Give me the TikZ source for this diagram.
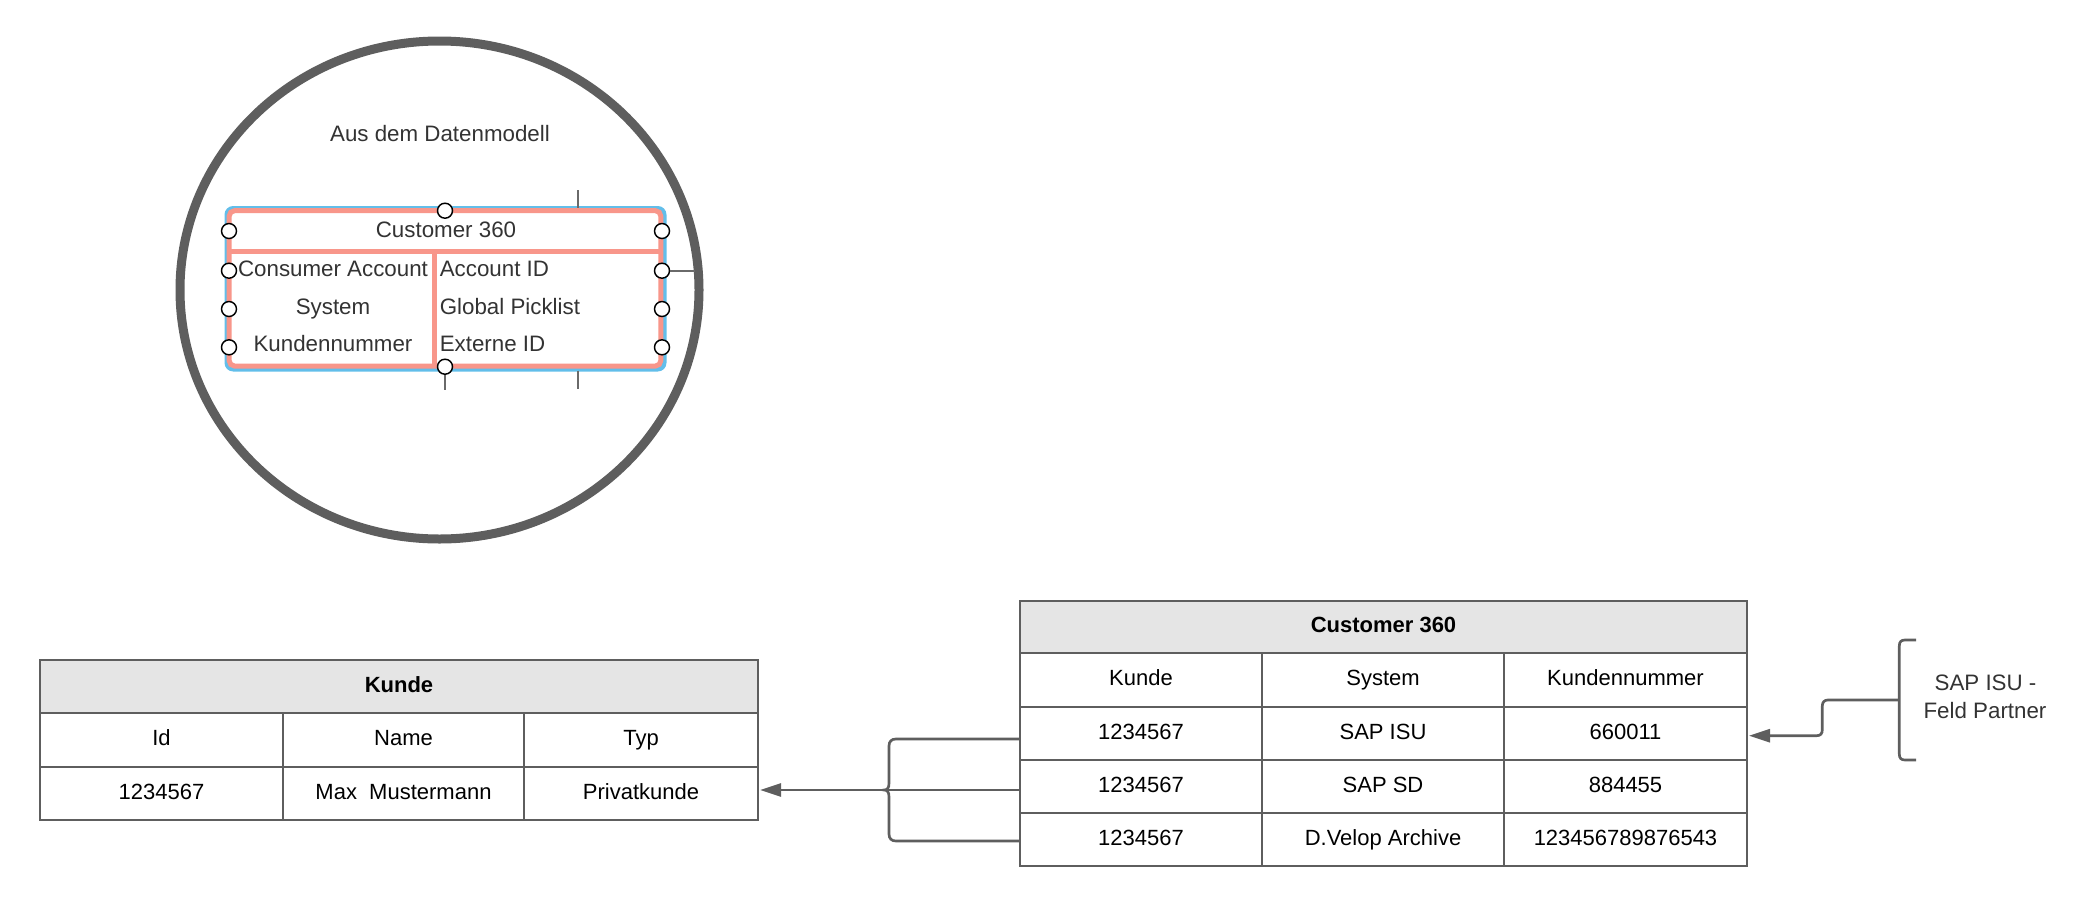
\documentclass[tikz,border=0pt]{standalone}
\usepackage{fontspec}
\setmainfont{Liberation Sans}
\usetikzlibrary{arrows.meta,calc,shapes.geometric}
\definecolor{lg}{HTML}{5E5E5E}
\definecolor{hdr}{HTML}{E5E5E5}
\definecolor{txt}{HTML}{333333}
\definecolor{salmon}{HTML}{F8968A}
\definecolor{selblue}{HTML}{62BEEA}
\definecolor{tickc}{HTML}{6A6A6A}
\begin{document}
\begin{tikzpicture}[x=0.75pt,y=-0.75pt,
 every node/.style={font=\fontsize{16.5}{19.8}\selectfont},
 cell/.style={draw=lg, line width=2pt, inner sep=0pt, outer sep=0pt, anchor=north west, text height=11.8pt, text depth=3pt, text=black},
 hcell/.style={cell, fill=hdr, font=\fontsize{16.5}{19.8}\selectfont\bfseries},
 conn/.style={draw=lg, line width=2pt},
 handle/.style={circle, draw=black, fill=white, line width=1.1pt, inner sep=0pt, minimum size=11.25pt},
 etxt/.style={text=txt, inner sep=0pt, anchor=base, font=\fontsize{16.75}{20}\selectfont},
 tickln/.style={draw=tickc, line width=1.5pt},
 tipend/.style={-{Triangle[length=15.75pt,width=9.75pt]}}
]
\useasboundingbox (0,0) rectangle (2100,907);

% ---------- lens circle ----------
\node[ellipse, draw=lg, line width=6.75pt, minimum width=389.25pt, minimum height=373.5pt, inner sep=0pt, outer sep=0pt] (lens) at (439.5,290) {};
\node[etxt] (title) at (440,141.7) {Aus dem Datenmodell};

% ---------- entity ----------
\fill[selblue, rounded corners=6.5pt] (224.5,206) rectangle (666.5,371.5);
\node[draw=salmon, fill=white, line width=3.75pt, rounded corners=4pt, minimum width=323.7pt, minimum height=116.5pt, inner sep=0pt, outer sep=0pt] (ent) at (445,288.35) {};
\coordinate (dv) at (0,251);
\coordinate (cv) at (434.2,0);
\draw[salmon, line width=3.75pt] (ent.west |- dv) -- (ent.east |- dv);
\draw[salmon, line width=3.75pt] (cv |- dv) -- (cv |- ent.south);

\node[etxt] (e0) at (446,237.5) {Customer 360};
\node[etxt] (el1) at (333,276) {Consumer Account};
\node[etxt] (el2) at (333,314) {System};
\node[etxt] (el3) at (333,351.7) {Kundennummer};
\node[etxt, anchor=base west] (er1) at (439.5,276) {Account ID};
\node[etxt, anchor=base west] (er2) at (439.5,314) {Global Picklist};
\node[etxt, anchor=base west] (er3) at (439.5,351.7) {Externe ID};

% ticks
\coordinate (t1a) at (578,190); \coordinate (t1b) at (578,207.5);
\coordinate (t2a) at (578,370.5); \coordinate (t2b) at (578,389);
\draw[tickln] (t1a) -- (t1b);
\draw[tickln] (t2a) -- (t2b);

% handles
\node[handle] (hl0) at (229,231) {};
\node[handle] (hl1) at (229,270.7) {};
\node[handle] (hl2) at (229,309) {};
\node[handle] (hl3) at (229,347.3) {};
\node[handle] (hr0) at (662,231) {};
\node[handle] (hr1) at (662,270.7) {};
\node[handle] (hr2) at (662,309) {};
\node[handle] (hr3) at (662,347.3) {};
\node[handle] (ht) at (445,210.7) {};
\node[handle] (hb) at (445,366.7) {};
\coordinate (rt) at (695,270.7);
\coordinate (bt3) at (445,390);
\draw[tickln] (hr1.east) -- (rt);
\draw[tickln] (hb.south) -- (bt3);

% ---------- Kunde table ----------
\node[hcell, minimum width=538.5pt, minimum height=39.75pt] (kh) at (40,660) {Kunde};
\node[cell, minimum width=182.25pt, minimum height=40.5pt] (k11) at (40,713) {Id};
\node[cell, minimum width=180.75pt, minimum height=40.5pt] (k12) at (283,713) {Name};
\node[cell, minimum width=175.5pt, minimum height=40.5pt] (k13) at (524,713) {Typ};
\node[cell, minimum width=182.25pt, minimum height=39.75pt] (k21) at (40,767) {1234567};
\node[cell, minimum width=180.75pt, minimum height=39.75pt] (k22) at (283,767) {Max\ \ Mustermann};
\node[cell, minimum width=175.5pt, minimum height=39.75pt] (k23) at (524,767) {Privatkunde};

% ---------- Customer 360 table ----------
\node[hcell, minimum width=545.25pt, minimum height=39pt] (ch) at (1020,601) {Customer 360};
\node[cell, minimum width=181.5pt, minimum height=40.5pt] (c0a) at (1020,653) {Kunde};
\node[cell, minimum width=181.5pt, minimum height=40.5pt] (c0b) at (1262,653) {System};
\node[cell, minimum width=182.25pt, minimum height=40.5pt] (c0c) at (1504,653) {Kundennummer};
\node[cell, minimum width=181.5pt, minimum height=39.75pt] (c1a) at (1020,707) {1234567};
\node[cell, minimum width=181.5pt, minimum height=39.75pt] (c1b) at (1262,707) {SAP ISU};
\node[cell, minimum width=182.25pt, minimum height=39.75pt] (c1c) at (1504,707) {660011};
\node[cell, minimum width=181.5pt, minimum height=39.75pt] (c2a) at (1020,760) {1234567};
\node[cell, minimum width=181.5pt, minimum height=39.75pt] (c2b) at (1262,760) {SAP SD};
\node[cell, minimum width=182.25pt, minimum height=39.75pt] (c2c) at (1504,760) {884455};
\node[cell, minimum width=181.5pt, minimum height=39.75pt] (c3a) at (1020,813) {1234567};
\node[cell, minimum width=181.5pt, minimum height=39.75pt] (c3b) at (1262,813) {D.Velop Archive};
\node[cell, minimum width=182.25pt, minimum height=39.75pt] (c3c) at (1504,813) {123456789876543};

% ---------- left brace connector ----------
\coordinate (bt) at ($(c1a.west)+(-1,5.5)$);
\coordinate (bm) at ($(c2a.west)+(-1,3.5)$);
\coordinate (bb) at ($(c3a.west)+(-1,1.5)$);
\coordinate (ka) at ($(bm -| k23.east)+(2,0)$);
\draw[conn] (bt) -- (896,739) .. controls (891.5,739) and (889,741.5) .. (889,746) -- (889,783)
  .. controls (889,788) and (887.5,790) .. (884,790)
  .. controls (887.5,790) and (889,792) .. (889,797) -- (889,834)
  .. controls (889,838.5) and (891.5,841) .. (896,841) -- (bb);
\draw[conn, tipend] (bm) -- (ka);

% ---------- right bracket and label ----------
\draw[conn] (1916,640) -- (1905,640) .. controls (1901,640) and (1899.3,642) .. (1899.3,646)
  -- (1899.3,754) .. controls (1899.3,758) and (1901,760) .. (1905,760) -- (1916,760);
\node[etxt] (sap1) at (1985.5,690.7) {SAP ISU -};
\node[etxt] (sap2) at (1985,718.3) {Feld Partner};
\coordinate (rb) at (1898,700);
\coordinate (ra) at ($(c1c.east)+(2,2.2)$);
\draw[conn, tipend] (rb) -- (1828,700) .. controls (1824.5,700) and (1822.3,702) .. (1822.3,706)
  -- (1822.3,729.7) .. controls (1822.3,733.7) and (1820.5,735.7) .. (1816.5,735.7) -- (ra);
\end{tikzpicture}
\end{document}
